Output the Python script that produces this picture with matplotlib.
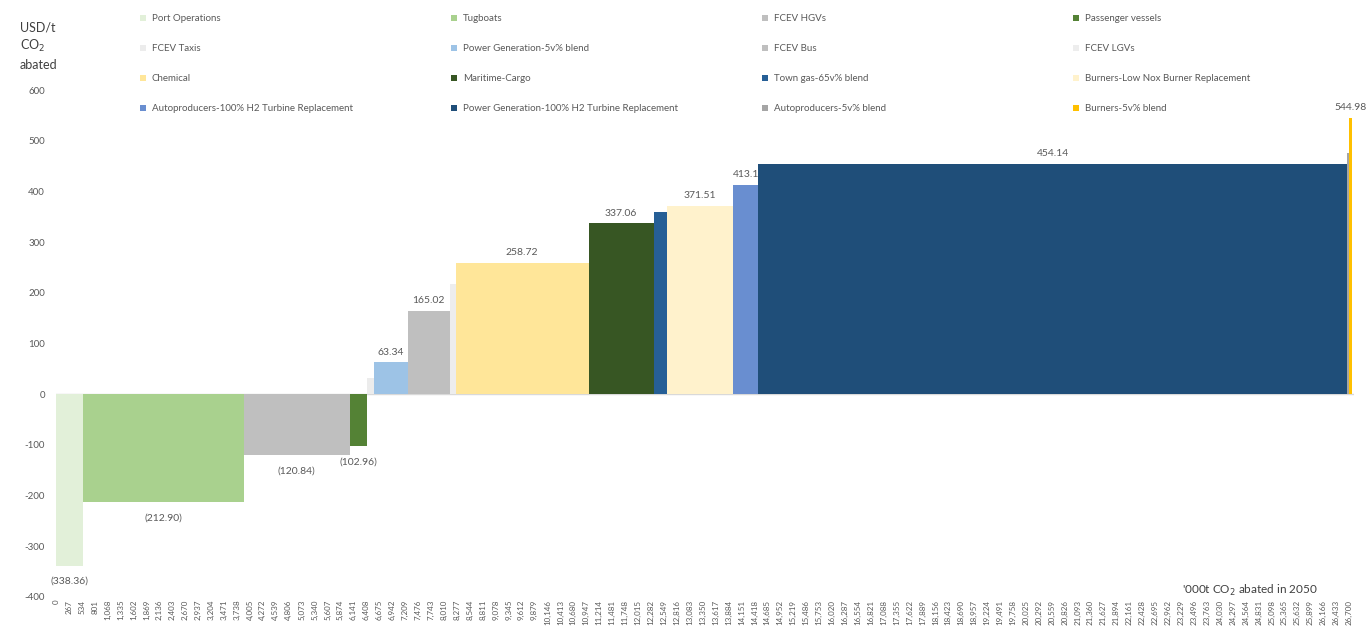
import numpy as np
import matplotlib
matplotlib.use("Agg")
import matplotlib.pyplot as plt
from matplotlib.patches import Rectangle

plt.rcParams['font.family'] = ['Lato', 'DejaVu Sans']

# ---- data ----
categories = [
    "Port Operations", "Tugboats", "FCEV HGVs", "Passenger vessels",
    "FCEV Taxis", "Power Generation-5v% blend", "FCEV Bus", "FCEV LGVs",
    "Chemical", "Maritime-Cargo", "Town gas-65v% blend", "Burners-Low Nox Burner Replacement",
    "Autoproducers-100% H2 Turbine Replacement", "Power Generation-100% H2 Turbine Replacement",
    "Autoproducers-5v% blend", "Burners-5v% blend",
]
# abatement cost, USD/t CO2 abated
costs = [-338.36, -212.90, -120.84, -102.96, 31.0, 63.34, 165.02, 218.0,
         258.72, 337.06, 360.0, 371.51, 413.15, 454.14, 475.0, 544.98]
# abatement volume, '000t CO2 abated in 2050
volumes = [550, 3330, 2180, 365, 150, 690, 860, 125,
           2750, 1340, 275, 1355, 515, 12180, 35, 55]
# which bars carry a value label
show_label = [True, True, True, True, False, True, True, False,
              True, True, False, True, True, True, False, True]
colors = ["#e2f0d9", "#a9d18e", "#bfbfbf", "#548235",
          "#ececec", "#9dc3e6", "#bfbfbf", "#ededed",
          "#ffe699", "#375623", "#265f96", "#fff2cc",
          "#698ed0", "#1f4e79", "#a5a5a5", "#ffc000"]
xtick_values = list(range(0, 26701, 267))
ytick_values = list(range(-400, 601, 100))

# ---- figure ----
W, H = 1370, 635
fig = plt.figure(figsize=(W / 100, H / 100), dpi=100)
x0_px, x1_px = 56, 1354
y_top_px, y_bot_px = 90, 597
ax = fig.add_axes([x0_px / W, 1 - y_bot_px / H, (x1_px - x0_px) / W, (y_bot_px - y_top_px) / H])

starts = np.concatenate([[0], np.cumsum(volumes)[:-1]])
ax.axhline(0, color="#d9d9d9", lw=1.0, zorder=1)
bars = ax.bar(starts, costs, width=volumes, align="edge", color=colors,
              linewidth=0, zorder=2)

grey = "#595959"
for i, (s, w, c, lab) in enumerate(zip(starts, volumes, costs, show_label)):
    if not lab:
        continue
    cx = s + w / 2
    if c < 0:
        txt = f"({abs(c):.2f})"
        ax.annotate(txt, (cx, c), xytext=(0, -8), textcoords="offset points",
                    ha="center", va="top", fontsize=7.5, color=grey, zorder=1.5)
    else:
        txt = f"{c:.2f}"
        # the label of the narrow bar before the large one is partly hidden behind it
        dx = 3 if (i + 1 < len(volumes) and volumes[i + 1] > 10000) else 0
        ax.annotate(txt, (cx, c), xytext=(dx, 4), textcoords="offset points",
                    ha="center", va="bottom", fontsize=7.5, color=grey, zorder=1.5)

ax.set_xlim(0, 26800)
ax.set_ylim(-400, 600)
ax.set_xticks(xtick_values)
ax.set_xticklabels([f"{v:,}" for v in xtick_values], rotation=90, fontsize=5.8, color=grey)
ax.set_yticks(ytick_values)
ax.set_yticklabels([str(v) for v in ytick_values], fontsize=7, color=grey)
ax.tick_params(axis="both", length=0)
ax.tick_params(axis="x", pad=2)
ax.tick_params(axis="y", pad=8)
for sp in ax.spines.values():
    sp.set_visible(False)
ax.patch.set_alpha(0)

# axis titles
fig.text(20 / W, 1 - 21 / H, "USD/t\nCO$_2$\nabated", ha="left", va="top",
         fontsize=9, color="#404040", linespacing=1.45)
fig.text(1250 / W, 1 - 590 / H, "'000t CO$_2$ abated in 2050", ha="center", va="center",
         fontsize=8.5, color="#404040")

# legend (4 columns, row-wise)
for i, (name, col) in enumerate(zip(categories, colors)):
    r, c = divmod(i, 4)
    mx = 143 + c * 311
    my = 18 + r * 30
    fig.patches.append(Rectangle(((mx - 3) / W, 1 - (my + 3) / H), 6 / W, 6 / H,
                                 transform=fig.transFigure, facecolor=col,
                                 edgecolor="none", figure=fig))
    fig.text((mx + 9) / W, 1 - (my + 0.5) / H, name, ha="left", va="center",
             fontsize=7, color=grey)

fig.savefig("out.png", dpi=100)
